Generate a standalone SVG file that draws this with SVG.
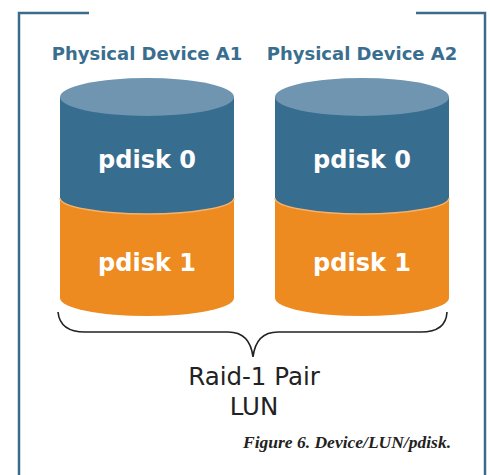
<svg xmlns="http://www.w3.org/2000/svg" width="490" height="475" viewBox="0 0 490 475">
  <style>
    .frame { fill: none; stroke: #3a6b8c; stroke-width: 2.5; }
    .title { font-family: "DejaVu Sans", Verdana, sans-serif; font-weight: bold; font-size: 18px; fill: #3a6e8f; text-anchor: middle; }
    .label { font-family: "DejaVu Sans", Verdana, sans-serif; font-weight: bold; font-size: 24px; fill: #ffffff; text-anchor: middle; }
    .top { fill: #6f95b0; }
    .blue { fill: #376d8f; }
    .orange { fill: #ee8b20; }
    .seam { fill: none; stroke: #f6b36c; stroke-width: 1.5; }
    .brace { fill: none; stroke: #222222; stroke-width: 1.6; }
    .caption { font-family: "DejaVu Sans", Verdana, sans-serif; font-size: 24.5px; fill: #222222; text-anchor: middle; }
    .figure { font-family: "Liberation Serif", "Times New Roman", serif; font-style: italic; font-weight: bold; font-size: 17.5px; fill: #222222; }
  </style>
  <defs>
    <!-- one disk stack, centred on x=0 -->
    <g id="stack">
      <path class="orange" d="M-87,198 L-87,298 A87,18 0 0 0 87,298 L87,198 Z"/>
      <path class="blue" d="M-87,97 L-87,198 A87,16 0 0 0 87,198 L87,97 Z"/>
      <path class="seam" d="M-87,198 A87,16 0 0 0 87,198"/>
      <ellipse class="top" cx="0" cy="97" rx="87" ry="19"/>
    </g>
  </defs>

  <!-- frame corners -->
  <path class="frame" d="M89,13 L19,13 L19,475"/>
  <path class="frame" d="M416,13 L485,13 L485,475"/>

  <g id="deviceA1">
    <text class="title" x="147" y="60">Physical Device A1</text>
    <use href="#stack" x="147"/>
    <text class="label" x="147" y="168">pdisk 0</text>
    <text class="label" x="147" y="271">pdisk 1</text>
  </g>

  <g id="deviceA2">
    <text class="title" x="362" y="60">Physical Device A2</text>
    <use href="#stack" x="362"/>
    <text class="label" x="362" y="168">pdisk 0</text>
    <text class="label" x="362" y="271">pdisk 1</text>
  </g>

  <g id="connectors">
    <path class="brace" d="M58,312 Q60,332 85,332 L228,332 Q250,332 253,357 Q256,332 278,332 L421,332 Q446,332 447,312"/>
  </g>

  <g id="lun">
    <text class="caption" x="254" y="385">Raid-1 Pair</text>
    <text class="caption" x="254" y="415">LUN</text>
  </g>

  <text class="figure" x="243" y="448">Figure 6. Device/LUN/pdisk.</text>
</svg>
